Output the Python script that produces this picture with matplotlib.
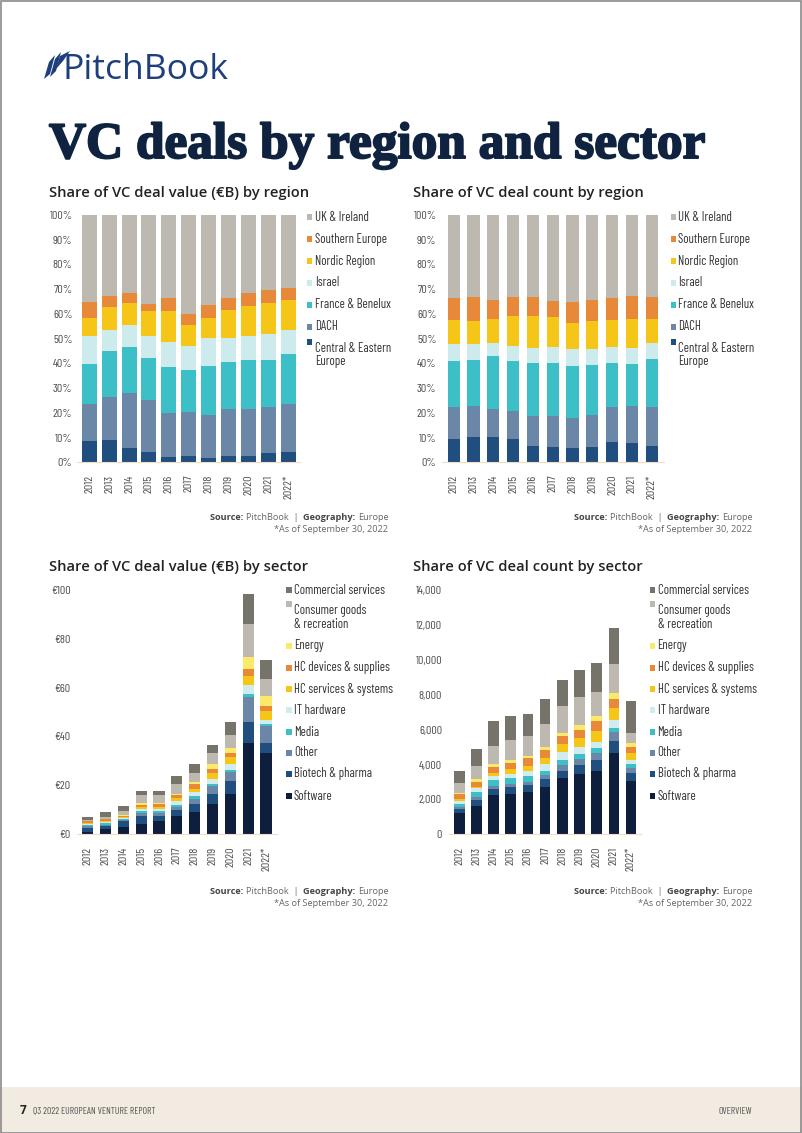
import matplotlib
matplotlib.use("Agg")
import matplotlib.pyplot as plt
from matplotlib.patches import Rectangle, Polygon
import matplotlib.patheffects as pe
import numpy as np

W, H = 802, 1133

years = ["2012", "2013", "2014", "2015", "2016", "2017", "2018", "2019", "2020", "2021", "2022*"]

# ---- region series (bottom -> top) ----
region_names = ["Central & Eastern\nEurope", "DACH", "France & Benelux", "Israel",
                "Nordic Region", "Southern Europe", "UK & Ireland"]
region_colors = ["#1f4e7f", "#6a87a8", "#3dbfc8", "#cdeaec", "#f5c518", "#e8893a", "#bdb8b0"]

value_cee      = [8.5, 9.0, 5.9, 4.2, 2.2, 2.7, 1.8, 2.7, 2.7, 3.8, 4.2]
value_dach     = [15.1, 17.3, 22.0, 21.0, 17.6, 17.7, 17.5, 18.7, 18.7, 18.6, 19.4]
value_fb       = [16.0, 18.6, 18.7, 17.1, 18.9, 17.1, 19.8, 19.2, 19.8, 18.8, 20.2]
value_israel   = [11.5, 8.6, 9.1, 8.8, 10.0, 9.7, 11.2, 9.7, 9.9, 10.8, 9.7]
value_nordic   = [7.3, 9.2, 8.6, 10.0, 12.4, 8.5, 8.1, 11.4, 12.1, 12.3, 12.0]
value_southern = [6.4, 4.6, 4.3, 3.1, 5.2, 4.1, 5.3, 4.7, 5.1, 5.4, 5.0]
value_uk       = [35.2, 32.7, 31.4, 35.8, 33.7, 40.2, 36.3, 33.6, 31.7, 30.3, 29.5]

count_cee      = [9.3, 10.4, 10.4, 9.3, 6.7, 6.1, 5.8, 6.1, 8.2, 7.7, 6.7]
count_dach     = [12.9, 12.4, 11.3, 11.5, 12.0, 12.6, 12.1, 13.0, 14.0, 15.1, 15.5]
count_fb       = [18.8, 18.7, 21.4, 20.2, 21.6, 21.6, 20.9, 20.3, 18.1, 17.1, 19.7]
count_israel   = [6.8, 6.3, 5.1, 6.2, 5.9, 6.3, 6.9, 6.3, 6.3, 6.2, 6.2]
count_nordic   = [9.7, 9.3, 9.9, 12.0, 13.0, 12.0, 10.8, 11.3, 10.9, 12.0, 10.0]
count_southern = [8.8, 9.9, 7.7, 7.8, 7.8, 6.8, 8.3, 8.8, 8.8, 9.2, 8.9]
count_uk       = [33.7, 33.0, 34.2, 33.0, 33.0, 34.6, 35.2, 34.2, 33.7, 32.7, 33.0]

# ---- sector series (bottom -> top) ----
sector_names = ["Software", "Biotech & pharma", "Other", "Media", "IT hardware",
                "HC services & systems", "HC devices & supplies", "Energy",
                "Consumer goods\n& recreation", "Commercial services"]
sector_colors = ["#0d1f3c", "#1f4e7f", "#6a87a8", "#3dbfc8", "#d0ecee",
                 "#f5c518", "#e8893a", "#fbe96a", "#bdb8b0", "#76736b"]

sv_software   = [1.0, 1.9, 2.9, 4.2, 5.5, 7.4, 8.9, 12.1, 16.2, 37.1, 33.0]
sv_biotech    = [1.6, 1.5, 2.3, 3.2, 1.9, 2.3, 3.4, 4.1, 5.5, 8.6, 4.2]
sv_other      = [0.5, 0.4, 0.5, 1.1, 1.1, 1.2, 2.0, 3.6, 3.8, 10.6, 7.1]
sv_media      = [0.6, 0.7, 0.4, 0.8, 0.8, 1.1, 1.4, 0.8, 0.7, 1.0, 0.6]
sv_ithw       = [0.5, 0.4, 0.6, 1.1, 1.1, 1.4, 1.6, 1.9, 2.4, 3.8, 2.0]
sv_hcserv     = [0.4, 0.6, 0.4, 0.8, 0.7, 1.2, 1.0, 2.3, 2.8, 3.6, 3.4]
sv_hcdev      = [0.6, 0.5, 0.4, 0.8, 1.2, 1.4, 2.2, 1.7, 1.8, 3.1, 2.2]
sv_energy     = [0.3, 0.3, 0.3, 0.6, 0.4, 0.5, 0.9, 2.1, 2.0, 4.9, 4.0]
sv_consumer   = [0.4, 0.8, 1.7, 3.2, 3.1, 4.0, 3.7, 4.6, 5.5, 13.5, 6.9]
sv_commercial = [1.1, 1.8, 2.1, 1.9, 1.9, 3.2, 3.4, 3.4, 5.1, 12.0, 8.1]

sc_software   = [1242, 1643, 2235, 2330, 2407, 2712, 3228, 3457, 3629, 4680, 3056]
sc_biotech    = [229, 343, 344, 401, 401, 478, 401, 497, 630, 649, 439]
sc_other      = [95, 153, 171, 172, 210, 210, 344, 344, 421, 535, 306]
sc_media      = [191, 268, 344, 325, 305, 229, 267, 286, 248, 248, 210]
sc_ithw       = [172, 229, 249, 248, 306, 420, 478, 420, 382, 439, 229]
sc_hcserv     = [77, 95, 152, 249, 287, 344, 439, 516, 611, 669, 440]
sc_hcdev      = [305, 287, 344, 382, 458, 420, 497, 477, 573, 535, 343]
sc_energy     = [77, 134, 172, 152, 115, 210, 172, 249, 287, 324, 230]
sc_consumer   = [534, 764, 1070, 1146, 1165, 1299, 1508, 1604, 1375, 1700, 573]
sc_commercial = [726, 993, 1413, 1356, 1260, 1414, 1509, 1566, 1681, 2063, 1833]

value_region = [value_cee, value_dach, value_fb, value_israel, value_nordic, value_southern, value_uk]
count_region = [count_cee, count_dach, count_fb, count_israel, count_nordic, count_southern, count_uk]
value_sector = [sv_software, sv_biotech, sv_other, sv_media, sv_ithw, sv_hcserv, sv_hcdev,
                sv_energy, sv_consumer, sv_commercial]
count_sector = [sc_software, sc_biotech, sc_other, sc_media, sc_ithw, sc_hcserv, sc_hcdev,
                sc_energy, sc_consumer, sc_commercial]

COND = ["Barlow Condensed", "Roboto Condensed", "DejaVu Sans"]
SANS = ["Open Sans", "DejaVu Sans"]
SERIF = ["Liberation Serif", "DejaVu Serif"]
TICK_C = "#4d4d4d"
TEXT_C = "#333333"
NAVY = "#0f2341"
TICK_FS = 8.6
LEG_FS = 9.2

fig = plt.figure(figsize=(W / 100, H / 100), dpi=100)
fig.patch.set_facecolor("white")
renderer = fig.canvas.get_renderer()


def fx(x):
    return x / W


def fy(y):
    return 1 - y / H


def add_ax(x0, x1, ytop, ybot):
    return fig.add_axes([fx(x0), fy(ybot), (x1 - x0) / W, (ybot - ytop) / H])


def stacked(ax, series, colors, width):
    x = np.arange(len(years))
    bottom = np.zeros(len(years))
    for vals, c in zip(series, colors):
        vals = np.asarray(vals, dtype=float)
        ax.bar(x, vals, width, bottom=bottom, color=c, linewidth=0)
        bottom += vals
    ax.set_xlim(-0.6, len(years) - 0.4)
    ax.set_xticks(x)
    ax.set_xticklabels(years, rotation=90, family=COND, fontweight="normal",
                       fontsize=TICK_FS, color=TICK_C, va="top")
    for s in ["top", "right", "left"]:
        ax.spines[s].set_visible(False)
    ax.spines["bottom"].set_color("#f2dcc4")
    ax.spines["bottom"].set_linewidth(0.8)
    ax.set_facecolor("none")


def yticks(ax, ticks, labels, pad):
    ax.set_yticks(ticks)
    ax.set_yticklabels(labels, family=COND, fontweight="normal", fontsize=TICK_FS, color=TICK_C)
    ax.tick_params(axis="y", length=0, pad=pad)
    ax.tick_params(axis="x", length=0, pad=9)


def legend(names, colors, xsq, xtxt, ys):
    sq = 5.6
    for n, c, y in zip(names, colors, ys):
        fig.patches.append(Rectangle((fx(xsq), fy(y + sq / 2)), sq / W, sq / H,
                                     transform=fig.transFigure, color=c, lw=0))
        fig.text(fx(xtxt), fy(y), n, family=COND, fontweight="normal", fontsize=LEG_FS,
                 color=TEXT_C, va="top" if "\n" in n else "center", ha="left",
                 linespacing=1.05)


def fit_width(t, target):
    w = t.get_window_extent(renderer=renderer).width
    if w > 0:
        t.set_fontsize(t.get_fontsize() * target / w)


# ---- Top-left: share of deal value by region ----
ax1 = add_ax(77.4, 300, 215, 462.3)
stacked(ax1, value_region, region_colors, 0.75)
ax1.set_ylim(0, 100)
yticks(ax1, range(0, 101, 10), [f"{v}%" for v in range(0, 101, 10)], 3.5)

# ---- Top-right: share of deal count by region ----
ax2 = add_ax(441.8, 663.6, 215, 462.3)
stacked(ax2, count_region, region_colors, 0.62)
ax2.set_ylim(0, 100)
yticks(ax2, range(0, 101, 10), [f"{v}%" for v in range(0, 101, 10)], 3.8)

# ---- Bottom-left: deal value by sector ----
ax3 = add_ax(77, 276.7, 590, 834)
stacked(ax3, value_sector, sector_colors, 0.62)
ax3.set_ylim(0, 100)
yticks(ax3, range(0, 101, 20), [f"€{v}" for v in range(0, 101, 20)], 4.5)

# ---- Bottom-right: deal count by sector ----
ax4 = add_ax(449, 641.3, 590, 834.3)
stacked(ax4, count_sector, sector_colors, 0.62)
ax4.set_ylim(0, 14000)
yticks(ax4, range(0, 14001, 2000), [f"{v:,}" for v in range(0, 14001, 2000)], 5)

# ---- legends ----
reg_ys = [217, 239, 261, 283, 305, 327, 342]
legend(region_names[::-1], region_colors[::-1], 306.5, 315, reg_ys)
legend(region_names[::-1], region_colors[::-1], 670.5, 678.5, reg_ys)
sec_ys = [590, 604, 646, 668, 689, 710, 732, 753, 774, 796]
legend(sector_names[::-1], sector_colors[::-1], 286, 294, sec_ys)
legend(sector_names[::-1], sector_colors[::-1], 649.5, 657.5, sec_ys)

# ---- titles ----
title = fig.text(fx(49), fy(158), "VC deals by region and sector", family=SERIF,
                 fontweight="bold", fontsize=36, color=NAVY, va="baseline", ha="left",
                 path_effects=[pe.withStroke(linewidth=1.4, foreground=NAVY)])
fit_width(title, 657)
for x, y, t in [(49, 196.5, "Share of VC deal value (€B) by region"),
                (413, 196.5, "Share of VC deal count by region"),
                (49, 570.5, "Share of VC deal value (€B) by sector"),
                (413, 570.5, "Share of VC deal count by sector")]:
    fig.text(fx(x), fy(y), t, family=SANS, fontweight="semibold", fontsize=10.6,
             color="#222222", va="baseline", ha="left")


# ---- source notes ----
def right_aligned_runs(xr, y, runs, size=6.6):
    x = xr
    for txt, bold in reversed(runs):
        t = fig.text(fx(x), fy(y), txt, family=SANS, fontsize=size,
                     fontweight="bold" if bold else "normal",
                     color="#444444" if bold else "#666666", ha="right", va="baseline")
        x -= t.get_window_extent(renderer=renderer).width


for xr, y0 in [(388.5, 520), (752.5, 520), (388.5, 894), (752.5, 894)]:
    right_aligned_runs(xr, y0, [("Source: ", True), ("PitchBook  |  ", False),
                                ("Geography: ", True), ("Europe", False)])
    fig.text(fx(xr), fy(y0 + 11.5), "*As of September 30, 2022", family=SANS, fontsize=6.6,
             color="#666666", ha="right", va="baseline")

# ---- logo ----
logo_c = "#1d3f7b"
logo = fig.text(fx(62), fy(79), "PitchBook", family=SANS, fontweight="medium", fontsize=24,
                color=logo_c, ha="left", va="baseline")
fit_width(logo, 166)
sails = [
    [(44, 79), (49, 62), (55, 55), (50, 74)],
    [(50, 77), (55, 59), (61, 52), (56, 71)],
    [(56, 69), (60, 56), (70, 51), (63, 61)],
]
for pts in sails:
    fig.patches.append(Polygon([(fx(a), fy(b)) for a, b in pts], closed=True,
                               transform=fig.transFigure, color=logo_c, lw=0))

# ---- footer ----
fig.patches.append(Rectangle((0, 0), 1, fy(1087), transform=fig.transFigure,
                             color="#f1ebe2", lw=0, zorder=0))
fig.text(fx(20), fy(1114), "7", family=SANS, fontweight="bold", fontsize=8.5,
         color="#222222", ha="left", va="baseline")
foot = fig.text(fx(33), fy(1114), "Q3 2022 EUROPEAN VENTURE REPORT", family=COND,
                fontweight="normal", fontsize=8.5, color="#555555", ha="left", va="baseline")
fit_width(foot, 123)
fig.text(fx(752), fy(1114), "OVERVIEW", family=COND, fontweight="normal",
         fontsize=foot.get_fontsize(), color="#555555", ha="right", va="baseline")

# page border
fig.patches.append(Rectangle((0.5 / W, 0.5 / H), 1 - 1.5 / W, 1 - 1.0 / H, transform=fig.transFigure,
                             fill=False, edgecolor="#8a8a8a", lw=1.2))

fig.savefig("out.png", dpi=100)
